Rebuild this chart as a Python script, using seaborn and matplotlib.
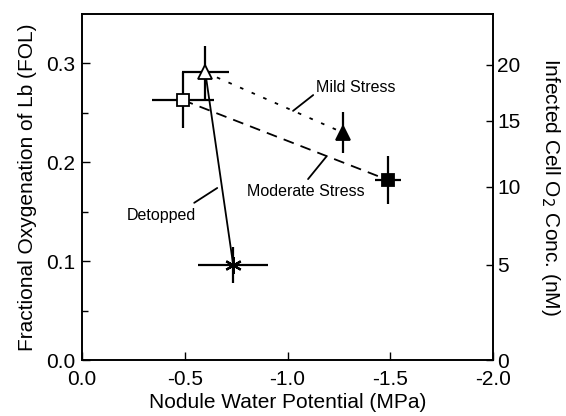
import numpy as np
import pandas as pd
import matplotlib
matplotlib.use("Agg")
import matplotlib.pyplot as plt
import seaborn as sns
from matplotlib.ticker import MultipleLocator, FixedLocator

# ---- data ----
treatments = ["Control", "Control2", "Mild Stress", "Moderate Stress", "Detopped"]
water_potential = [-0.49, -0.60, -1.27, -1.49, -0.736]      # MPa
fol = [0.263, 0.291, 0.230, 0.182, 0.096]                     # fractional oxygenation
fol_err = [0.028, 0.027, 0.021, 0.024, 0.018]
wp_err = [0.15, 0.115, 0.0, 0.063, 0.17]
markers = ["s", "^", "^", "s", (6, 2, 0)]
filled = [False, False, True, True, True]

# connecting lines: (start index, end index, style)
links_start = [1, 0, 1]
links_end = [2, 3, 4]
links_style = ["mild", "moderate", "detopped"]

# right axis: infected cell O2 concentration (nM), Lb dissociation constant
o2_ticks = [0, 5, 10, 15, 20]
lb_kd = 47.0

labels_text = ["Mild Stress", "Moderate Stress", "Detopped"]
labels_pos = [(-1.139, 0.276), (-1.09, 0.170), (-0.387, 0.146)]
leader_xy = [(-1.027, 0.252), (-1.19, 0.206), (-0.658, 0.174)]
leader_text_end = [(-1.125, 0.268), (-1.10, 0.183), (-0.546, 0.159)]

# ---- styling ----
sns.set_theme(style="ticks")
plt.rcParams["font.family"] = ["Liberation Sans", "DejaVu Sans"]
plt.rcParams["axes.unicode_minus"] = False

fig = plt.figure(figsize=(5.66, 4.16), dpi=100)
ax = fig.add_axes([82 / 566, 56 / 416, 411 / 566, 346 / 416])

# connecting lines via seaborn
line_rows = []
for s, e, st in zip(links_start, links_end, links_style):
    line_rows.append({"x": water_potential[s], "y": fol[s], "link": st})
    line_rows.append({"x": water_potential[e], "y": fol[e], "link": st})
lines_df = pd.DataFrame(line_rows)
dash_map = {"mild": (2.0, 5.0), "moderate": (6.0, 4.0), "detopped": ""}
sns.lineplot(data=lines_df, x="x", y="y", hue="link", style="link",
             dashes=dash_map, palette={k: "black" for k in dash_map},
             linewidth=1.3, legend=False, ax=ax, sort=False, estimator=None)

# error bars and markers
for i in range(len(fol)):
    ax.errorbar(water_potential[i], fol[i],
                xerr=wp_err[i] if wp_err[i] > 0 else None,
                yerr=fol_err[i], fmt="none", ecolor="black",
                elinewidth=1.6, capsize=0, zorder=3)
for i in range(len(fol)):
    m = markers[i]
    if m == (6, 2, 0):
        ax.plot(water_potential[i], fol[i], marker=m, markersize=12,
                color="black", markeredgewidth=1.6, linestyle="none", zorder=4)
    else:
        ax.plot(water_potential[i], fol[i], marker=m, markersize=9 if m == "s" else 10,
                markerfacecolor="black" if filled[i] else "white",
                markeredgecolor="black", markeredgewidth=1.3,
                linestyle="none", zorder=4)

ax.set_xlim(0, -2.0)
ax.set_ylim(0, 0.35)
ax.xaxis.set_major_locator(MultipleLocator(0.5))
ax.yaxis.set_major_locator(FixedLocator([0.0, 0.1, 0.2, 0.3]))
ax.yaxis.set_minor_locator(FixedLocator([0.05, 0.15, 0.25]))
ax.xaxis.set_major_formatter(matplotlib.ticker.FormatStrFormatter("%.1f"))
ax.yaxis.set_major_formatter(matplotlib.ticker.FormatStrFormatter("%.1f"))
ax.tick_params(axis="both", which="major", direction="in", length=6, width=1,
               labelsize=15, color="black", labelcolor="black")
ax.tick_params(axis="y", which="minor", direction="in", length=4, width=1, color="black")
ax.tick_params(axis="x", pad=7)
ax.tick_params(axis="y", pad=5)
for sp in ax.spines.values():
    sp.set_visible(True)
    sp.set_color("black")
    sp.set_linewidth(1.2)

ax.set_xlabel("Nodule Water Potential (MPa)", fontsize=15, color="black", labelpad=3)
ax.set_ylabel("Fractional Oxygenation of Lb (FOL)", fontsize=15, color="black", labelpad=6)

ax2 = ax.twinx()
ax2.set_ylim(ax.get_ylim())
o2_pos = [c / (c + lb_kd) for c in o2_ticks]
ax2.set_yticks(o2_pos)
ax2.set_yticklabels([str(c) for c in o2_ticks])
ax2.tick_params(axis="y", direction="in", length=5, width=1, labelsize=15,
                color="black", labelcolor="black", pad=3)
ax2.set_ylabel("Infected Cell O$_2$ Conc. (nM)", fontsize=15, rotation=270,
               labelpad=30, color="black")
for sp in ax2.spines.values():
    sp.set_color("black")
    sp.set_linewidth(1.2)

# annotations
for txt, pos, xy, xyt in zip(labels_text, labels_pos, leader_xy, leader_text_end):
    ax.text(pos[0], pos[1], txt, fontsize=11.5, color="black",
            ha="left" if txt == "Mild Stress" else "center", va="center")
    ax.annotate("", xy=xy, xytext=xyt,
                arrowprops=dict(arrowstyle="-", color="black", lw=1.3,
                                shrinkA=0, shrinkB=0))

fig.savefig("out.png", dpi=100)
